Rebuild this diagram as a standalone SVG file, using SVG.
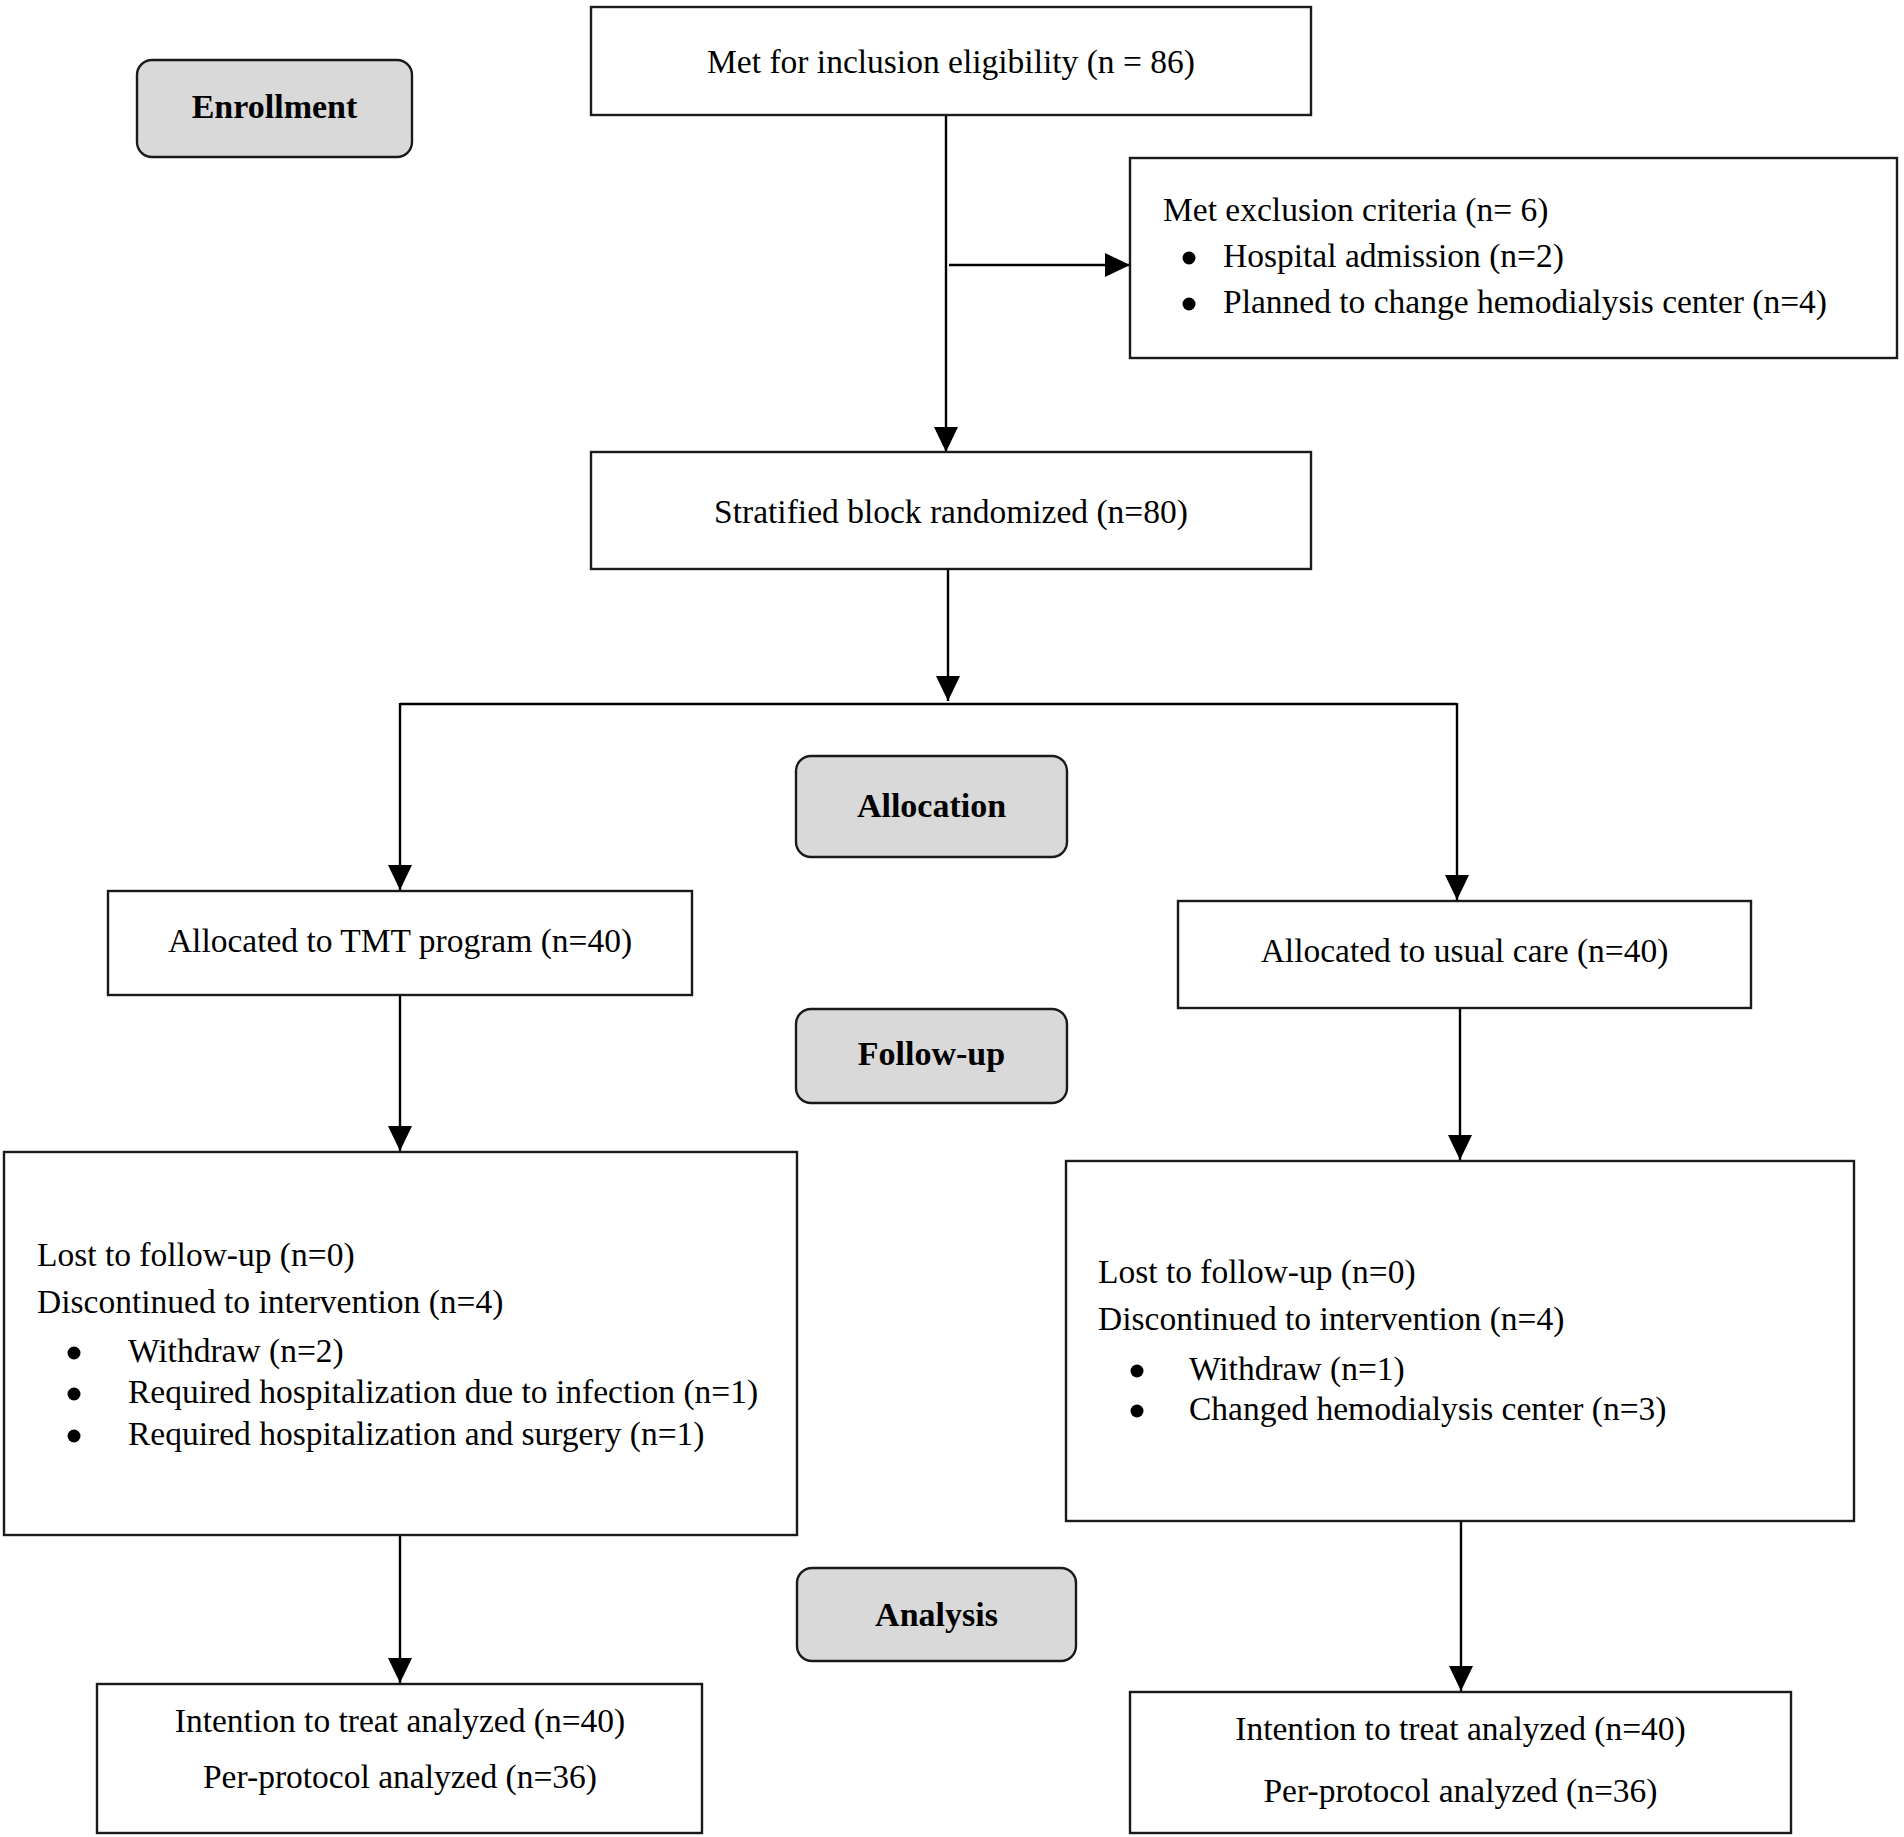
<svg xmlns="http://www.w3.org/2000/svg" width="1904" height="1837" viewBox="0 0 1904 1837">
<defs>
<marker id="ah" markerUnits="userSpaceOnUse" markerWidth="26" markerHeight="26" refX="25" refY="12" orient="auto">
<path d="M0,0 L25,12 L0,24 z" fill="#000"/>
</marker>
<style>
.box{fill:#fff;stroke:#1a1a1a;stroke-width:2.4}
.stage{fill:#d9d9d9;stroke:#1a1a1a;stroke-width:2.4}
.t{font-family:"Liberation Serif","Times New Roman",serif;font-size:33.5px;fill:#000}
.dot{fill:#000}
.c{text-anchor:middle}
.b{font-family:"Liberation Serif","Times New Roman",serif;font-size:34px;font-weight:bold;fill:#000;text-anchor:middle}
.ln{fill:none;stroke:#000;stroke-width:2.4}
</style>
</defs>
<rect width="1904" height="1837" fill="#fff"/>

<g id="connectors">
<line class="ln" x1="946" y1="115" x2="946" y2="452" marker-end="url(#ah)"/>
<line class="ln" x1="949" y1="265" x2="1130" y2="265" marker-end="url(#ah)"/>
<line class="ln" x1="948" y1="569" x2="948" y2="701" marker-end="url(#ah)"/>
<polyline class="ln" points="400,704 1457,704"/>
<line class="ln" x1="400" y1="703" x2="400" y2="890" marker-end="url(#ah)"/>
<line class="ln" x1="1457" y1="703" x2="1457" y2="900" marker-end="url(#ah)"/>
<line class="ln" x1="400" y1="995" x2="400" y2="1151" marker-end="url(#ah)"/>
<line class="ln" x1="1460" y1="1008" x2="1460" y2="1160" marker-end="url(#ah)"/>
<line class="ln" x1="400" y1="1535" x2="400" y2="1683" marker-end="url(#ah)"/>
<line class="ln" x1="1461" y1="1521" x2="1461" y2="1691" marker-end="url(#ah)"/>
</g>

<g id="enrollment">
<rect class="stage" x="137" y="60" width="275" height="97" rx="15"/>
<text class="b" x="274.5" y="118">Enrollment</text>
</g>

<g id="eligibility">
<rect class="box" x="591" y="7" width="720" height="108"/>
<text class="t c" x="951" y="73">Met for inclusion eligibility (n = 86)</text>
</g>

<g id="exclusion">
<rect class="box" x="1130" y="158" width="767" height="200"/>
<text class="t" x="1163" y="221">Met exclusion criteria (n= 6)</text>
<circle class="dot" cx="1189" cy="258" r="6.5"/>
<text class="t" x="1223" y="267">Hospital admission (n=2)</text>
<circle class="dot" cx="1189" cy="304" r="6.5"/>
<text class="t" x="1223" y="313">Planned to change hemodialysis center (n=4)</text>
</g>

<g id="randomized">
<rect class="box" x="591" y="452" width="720" height="117"/>
<text class="t c" x="951" y="523">Stratified block randomized (n=80)</text>
</g>

<g id="allocation">
<rect class="stage" x="796" y="756" width="271" height="101" rx="15"/>
<text class="b" x="931.5" y="817">Allocation</text>
</g>

<g id="alloc-tmt">
<rect class="box" x="108" y="891" width="584" height="104"/>
<text class="t c" x="400" y="952">Allocated to TMT program (n=40)</text>
</g>

<g id="alloc-usual">
<rect class="box" x="1178" y="901" width="573" height="107"/>
<text class="t c" x="1464.5" y="962">Allocated to usual care (n=40)</text>
</g>

<g id="followup">
<rect class="stage" x="796" y="1009" width="271" height="94" rx="15"/>
<text class="b" x="931.5" y="1065">Follow-up</text>
</g>

<g id="followup-tmt">
<rect class="box" x="4" y="1152" width="793" height="383"/>
<text class="t" x="37" y="1266">Lost to follow-up (n=0)</text>
<text class="t" x="37" y="1313">Discontinued to intervention (n=4)</text>
<circle class="dot" cx="74" cy="1353" r="6.5"/>
<text class="t" x="128" y="1362">Withdraw (n=2)</text>
<circle class="dot" cx="74" cy="1394" r="6.5"/>
<text class="t" x="128" y="1403">Required hospitalization due to infection (n=1)</text>
<circle class="dot" cx="74" cy="1436" r="6.5"/>
<text class="t" x="128" y="1445">Required hospitalization and surgery (n=1)</text>
</g>

<g id="followup-usual">
<rect class="box" x="1066" y="1161" width="788" height="360"/>
<text class="t" x="1098" y="1283">Lost to follow-up (n=0)</text>
<text class="t" x="1098" y="1330">Discontinued to intervention (n=4)</text>
<circle class="dot" cx="1137" cy="1371" r="6.5"/>
<text class="t" x="1189" y="1380">Withdraw (n=1)</text>
<circle class="dot" cx="1137" cy="1411" r="6.5"/>
<text class="t" x="1189" y="1420">Changed hemodialysis center (n=3)</text>
</g>

<g id="analysis">
<rect class="stage" x="797" y="1568" width="279" height="93" rx="15"/>
<text class="b" x="936.5" y="1626">Analysis</text>
</g>

<g id="analysis-tmt">
<rect class="box" x="97" y="1684" width="605" height="149"/>
<text class="t c" x="400" y="1732">Intention to treat analyzed (n=40)</text>
<text class="t c" x="400" y="1788">Per-protocol analyzed (n=36)</text>
</g>

<g id="analysis-usual">
<rect class="box" x="1130" y="1692" width="661" height="141"/>
<text class="t c" x="1460.5" y="1740">Intention to treat analyzed (n=40)</text>
<text class="t c" x="1460.5" y="1802">Per-protocol analyzed (n=36)</text>
</g>
</svg>
